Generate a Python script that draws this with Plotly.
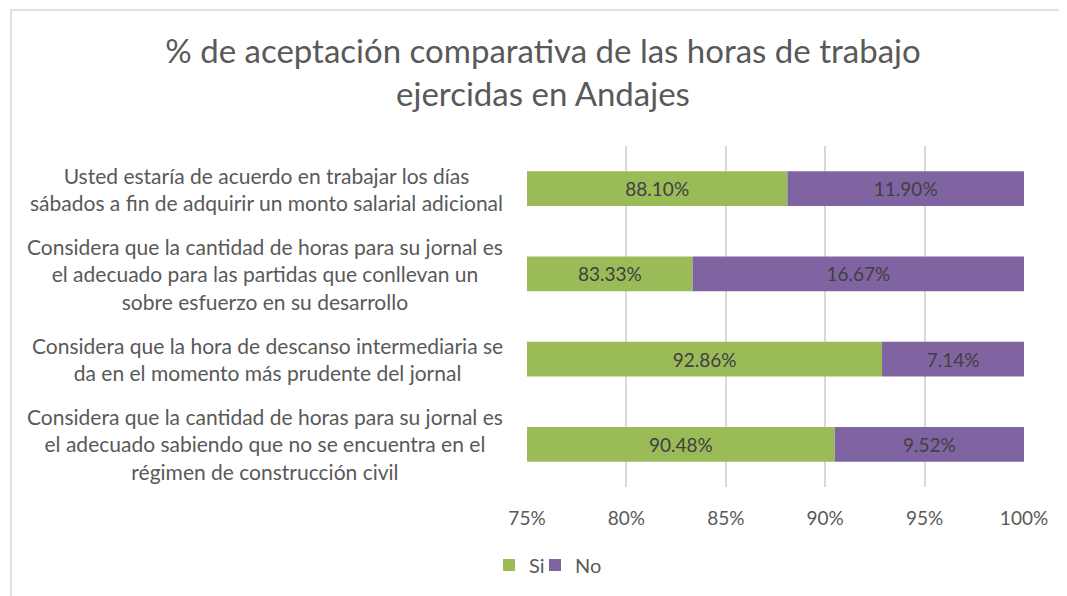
import plotly.graph_objects as go

categories = [
    "Usted estaría de acuerdo en trabajar los días<br>sábados a fin de adquirir un monto salarial adicional",
    "Considera que la cantidad de horas para su jornal es<br>el adecuado para las partidas que conllevan un<br>sobre esfuerzo en su desarrollo",
    "Considera que la hora de descanso intermediaria se<br>da en el momento más prudente del jornal",
    "Considera que la cantidad de horas para su jornal es<br>el adecuado sabiendo que no se encuentra en el<br>régimen de construcción civil",
]
si_values = [88.10, 83.33, 92.86, 90.48]
no_values = [11.90, 16.67, 7.14, 9.52]
tick_vals = [75, 80, 85, 90, 95, 100]
tick_text = ["75%", "80%", "85%", "90%", "95%", "100%"]
axis_min = 75

FONT = "Lato"
GREEN = "#9BBB59"
PURPLE = "#8064A2"

ids = list(range(len(categories)))

# page offset: browser body has 8px margin
OFF = 8
W, H = 1067 - OFF, 596 - OFF
PL, PR, PT, PB = 527 - OFF, 1024 - OFF, 146 - OFF, 487 - OFF
pw, ph = PR - PL, PB - PT

fig = go.Figure()
fig.add_trace(go.Bar(
    y=ids, x=[v - axis_min for v in si_values], base=axis_min, orientation="h", name="Si",
    marker=dict(color=GREEN, line=dict(width=0)),
    text=[f"{v:.2f}%" for v in si_values], textposition="inside",
    insidetextanchor="middle",
    textfont=dict(family=FONT, size=19, color="#404040"),
    hoverinfo="skip", legend="legend",
))
fig.add_trace(go.Bar(
    y=ids, x=no_values, base=si_values, orientation="h", name="No",
    marker=dict(color=PURPLE, line=dict(width=0)),
    text=[f"{v:.2f}%" for v in no_values], textposition="inside",
    insidetextanchor="middle",
    textfont=dict(family=FONT, size=19, color="#404040"),
    hoverinfo="skip", legend="legend2",
))

for i, c in enumerate(categories):
    fig.add_annotation(
        x=0, xref="paper", xanchor="right", xshift=-22,
        y=i, yref="y", yanchor="middle",
        text=c, showarrow=False, align="center",
        font=dict(family=FONT, size=21, color="#595959"),
    )

legend_common = dict(
    orientation="h", xanchor="left",
    y=(PB - 557) / ph, yanchor="middle",
    font=dict(family=FONT, size=20, color="#595959"),
    bgcolor="rgba(0,0,0,0)",
)

fig.update_layout(
    width=W, height=H,
    barmode="overlay", bargap=0.59,
    margin=dict(l=PL, r=W - PR, t=PT, b=H - PB, autoexpand=False),
    paper_bgcolor="white", plot_bgcolor="white",
    font=dict(family=FONT, color="#595959"),
    title=dict(
        text="% de aceptación comparativa de las horas de trabajo<br>ejercidas en Andajes",
        x=535 / W, xanchor="center", xref="container",
        y=1 - 55 / H, yanchor="middle", yref="container",
        font=dict(family=FONT, size=33, color="#595959"),
    ),
    xaxis=dict(
        range=[75, 100], tickvals=tick_vals, ticktext=tick_text,
        showgrid=True, gridcolor="#D9D9D9", gridwidth=1.5,
        zeroline=False, showline=False, ticks="",
        tickfont=dict(family=FONT, size=19, color="#595959"),
        ticklabelstandoff=18,
    ),
    yaxis=dict(
        autorange="reversed", showticklabels=False, showgrid=False,
        zeroline=False, showline=False, ticks="",
        tickvals=ids,
    ),
    legend=dict(x=(481 - PL) / pw, **legend_common),
    legend2=dict(x=(527 - PL) / pw, **legend_common),
    uniformtext=dict(minsize=8, mode="show"),
    showlegend=True,
)
fig.add_shape(
    type="rect", xref="paper", yref="paper",
    x0=(3 - PL) / pw, x1=(1090 - PL) / pw,
    y0=(PB - 600) / ph, y1=(PB - 2) / ph,
    line=dict(color="#D9D9D9", width=1.5), fillcolor="rgba(0,0,0,0)", layer="below",
)

fig.write_html("out.html")
